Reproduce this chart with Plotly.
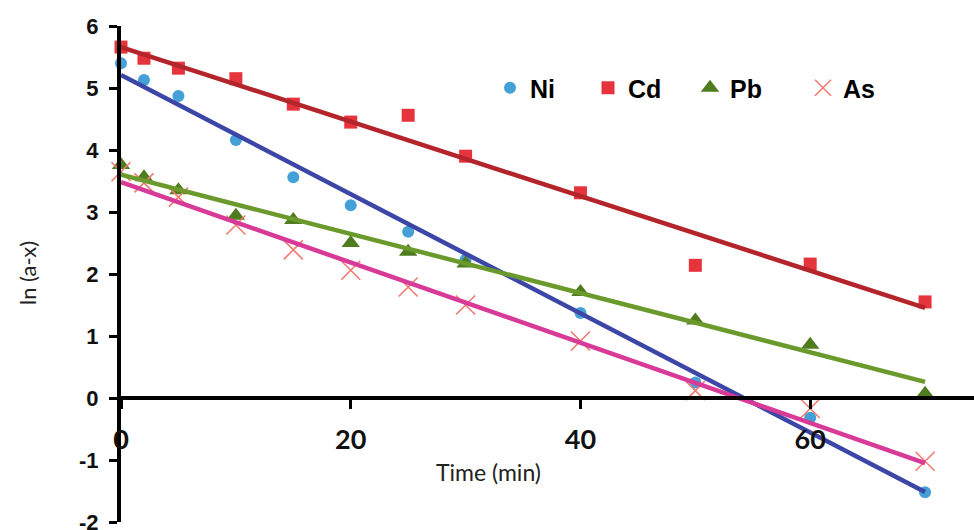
import plotly.graph_objects as go

# ---- data ----
time_min = [0, 2, 5, 10, 15, 20, 25, 30, 40, 50, 60, 70]
ni = [5.40, 5.13, 4.87, 4.16, 3.56, 3.11, 2.68, 2.23, 1.37, 0.25, -0.32, -1.52]
cd = [5.66, 5.48, 5.32, 5.15, 4.74, 4.45, 4.56, 3.90, 3.31, 2.14, 2.16, 1.55]
pb = [3.76, 3.56, 3.35, 2.94, 2.87, 2.50, 2.36, 2.17, 1.71, 1.25, 0.86, 0.07]
as_ = [3.65, 3.47, 3.24, 2.79, 2.39, 2.06, 1.79, 1.50, 0.92, 0.12, -0.17, -1.02]

# linear trend lines (intercept, slope)
fit_range = [0, 70]
ni_fit = (5.21, -0.0961)
cd_fit = (5.66, -0.0601)
pb_fit = (3.60, -0.0477)
as_fit = (3.48, -0.0647)

y_tick_vals = [-2, -1, 0, 1, 2, 3, 4, 5, 6]
y_tick_text = ["-2", "-1", "0", "1", "2", "3", "4", "5", "6"]
x_tick_vals = [0, 20, 40, 60]

series = [
    ("Ni", ni, ni_fit, dict(symbol="circle", size=12, color="#45A0D8"), "#3B46A6", 53),
    ("Cd", cd, cd_fit, dict(symbol="square", size=13, color="#E6343D"), "#B4242B", 57),
    ("Pb", pb, pb_fit, dict(symbol="triangle-up", size=16, color="#4E7C1E"), "#6A9A2C", 68),
    ("As", as_, as_fit, dict(symbol="x-thin", size=19, color="#F27A70",
                             line=dict(width=1.6, color="#F27A70")), "#D83A98", 60),
]

fig = go.Figure()

for name, vals, fit, mk, lc, lw in series:
    fig.add_trace(go.Scatter(
        x=time_min, y=vals, mode="markers", name=name, marker=mk,
        cliponaxis=False, legendwidth=lw,
    ))

for name, vals, fit, mk, lc, lw in series:
    a, b = fit
    fig.add_trace(go.Scatter(
        x=fit_range, y=[a + b * t for t in fit_range], mode="lines",
        line=dict(color=lc, width=4.5), showlegend=False, cliponaxis=False,
    ))

fig.update_layout(
    width=974, height=530,
    margin=dict(l=121, r=0, t=26, b=8),
    paper_bgcolor="white", plot_bgcolor="white",
    showlegend=True,
    legend=dict(
        orientation="h", x=0.4326, y=0.875, xanchor="left", yanchor="middle",
        bgcolor="rgba(0,0,0,0)",
        font=dict(family="Arial, Liberation Sans", size=25, color="black", weight="bold"),
    ),
    xaxis=dict(
        range=[0, 74.26], anchor="free", position=0.25, automargin=False,
        showgrid=False, zeroline=False,
        showline=True, linecolor="black", linewidth=4,
        tickvals=x_tick_vals, ticks="outside", ticklen=9, tickwidth=3, tickcolor="black",
        ticklabelstandoff=8,
        tickfont=dict(family="Lato", size=27, color="#111", weight="bold"),
    ),
    yaxis=dict(
        range=[-2, 6], showgrid=False, zeroline=False, automargin=False,
        showline=True, linecolor="black", linewidth=4,
        tickvals=y_tick_vals, ticktext=y_tick_text,
        ticks="outside", ticklen=8, tickwidth=3, tickcolor="black",
        ticklabelstandoff=6, ticklabeloverflow="allow",
        tickfont=dict(family="Arial, Liberation Sans", size=22, color="#111", weight="bold"),
    ),
    annotations=[
        dict(text="Time (min)", xref="paper", yref="paper",
             x=(488 - 121) / 853, y=(522 - 472) / 496, xanchor="center", yanchor="middle",
             showarrow=False, font=dict(family="Lato", size=23, color="#222")),
        dict(text="ln (a-x)", xref="paper", yref="paper",
             x=(27 - 121) / 853, y=(522 - 273) / 496, xanchor="center", yanchor="middle",
             textangle=-90, showarrow=False, font=dict(family="Lato", size=22, color="#222")),
    ],
)

fig.write_html("out.html")
